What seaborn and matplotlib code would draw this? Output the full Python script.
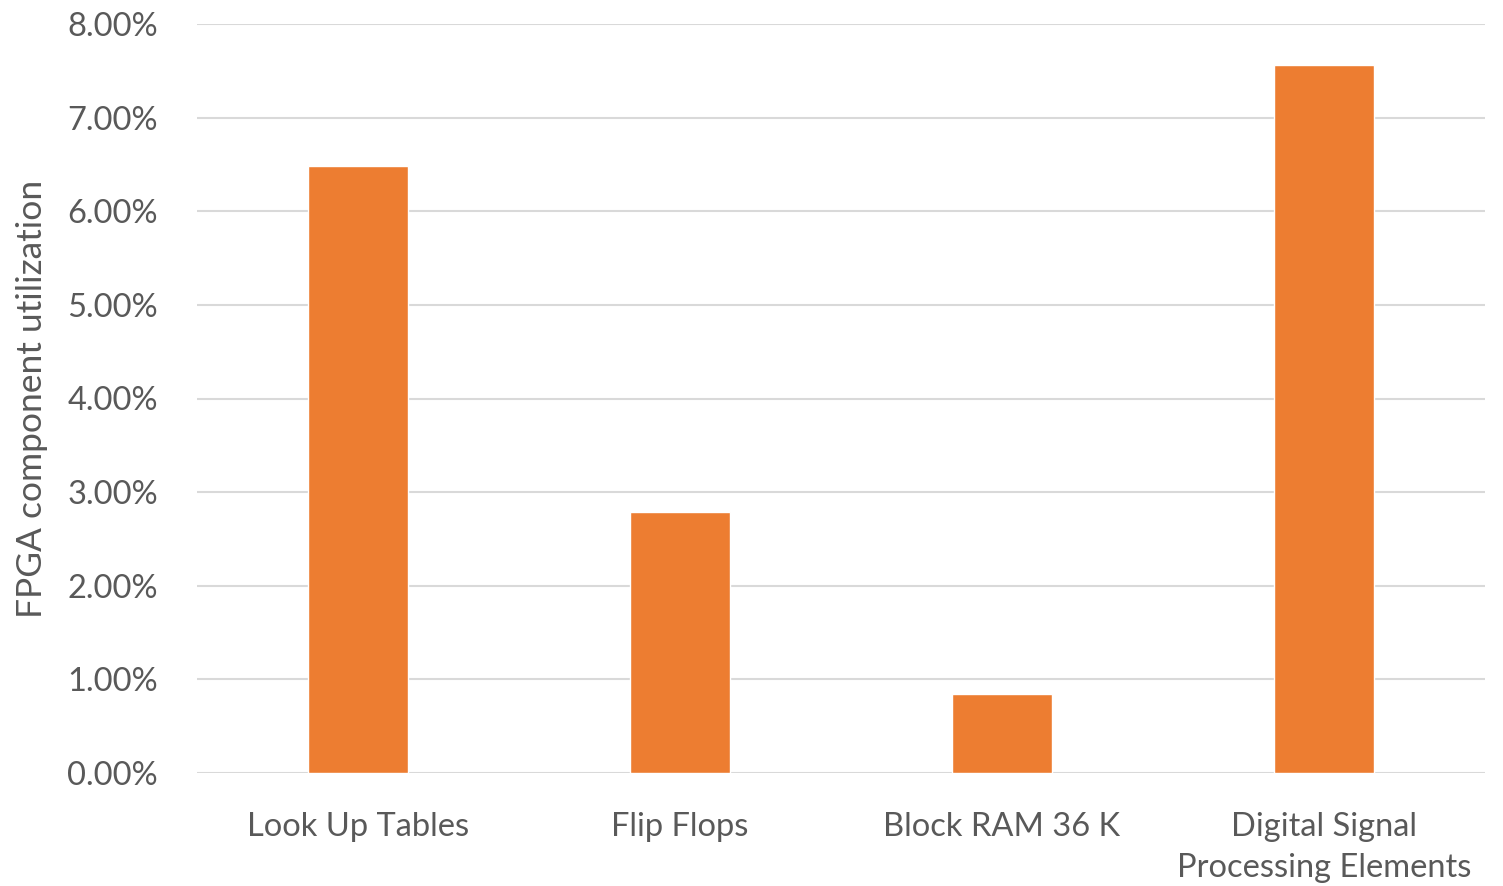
import matplotlib
matplotlib.use("Agg")
import matplotlib.pyplot as plt
import seaborn as sns
import pandas as pd
from matplotlib.ticker import PercentFormatter, MultipleLocator

components = ["Look Up Tables", "Flip Flops", "Block RAM 36 K",
              "Digital Signal\nProcessing Elements"]
utilization = [6.48, 2.79, 0.84, 7.56]

df = pd.DataFrame({"component": components, "utilization": utilization})

sns.set_theme(style="white")
plt.rcParams["font.family"] = ["Lato", "DejaVu Sans"]

text_color = "#595959"
bar_color = "#ED7D31"
grid_color = "#D9D9D9"

fig = plt.figure(figsize=(15.03, 8.86), dpi=100)
ax = fig.add_axes([197 / 1503, 113 / 886, 1288 / 1503, 749 / 886])

sns.barplot(data=df, x="component", y="utilization", color=bar_color,
            width=0.31, saturation=1, ax=ax, zorder=3)

ax.set_xlim(-0.5, 3.5)
ax.set_ylim(0, 8)
ax.yaxis.set_major_locator(MultipleLocator(1))
ax.yaxis.set_major_formatter(PercentFormatter(decimals=2))
ax.grid(axis="y", color=grid_color, linewidth=1.5, zorder=0)
ax.set_axisbelow(True)
for s in ax.spines.values():
    s.set_visible(False)

ax.tick_params(axis="both", length=0, labelsize=23.5, colors=text_color)
ax.tick_params(axis="y", pad=28)
ax.tick_params(axis="x", pad=28)
for lbl in ax.get_xticklabels():
    lbl.set_linespacing(1.45)
ax.set_xlabel("")
ax.set_ylabel("FPGA component utilization", fontsize=25.5, color=text_color,
              labelpad=14)

fig.savefig("out.png", dpi=100)
